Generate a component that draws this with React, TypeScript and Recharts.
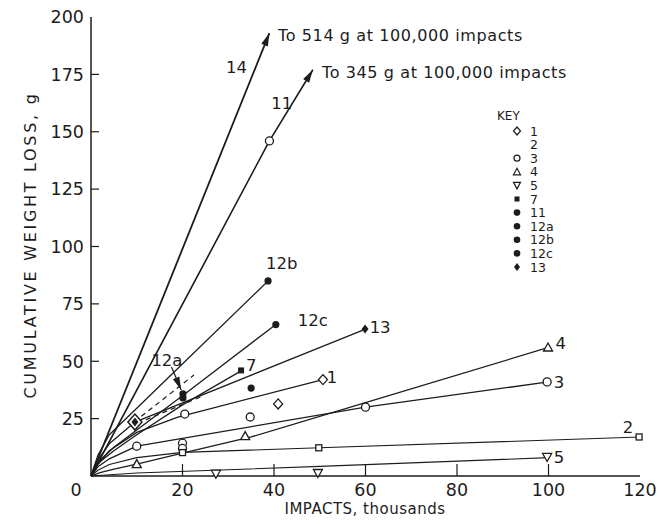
import { ComposedChart, Line, Scatter, XAxis, YAxis } from 'recharts'

// axis ticks
const xTicks = [0, 20, 40, 60, 80, 100, 120]
const yTicks = [0, 25, 50, 75, 100, 125, 150, 175, 200]

// curves (impacts in thousands, cumulative weight loss in g)
const line14 = [{ x: 0, y: 0 }, { x: 39, y: 193 }]
const line11 = [{ x: 0, y: 0 }, { x: 39, y: 146 }, { x: 48.5, y: 177 }]
const line12b = [{ x: 0, y: 0 }, { x: 1.5, y: 9 }, { x: 4, y: 18 }, { x: 10, y: 29.5 }, { x: 38.7, y: 85 }]
const line12c = [{ x: 0, y: 0 }, { x: 1.5, y: 6 }, { x: 5, y: 12.5 }, { x: 10, y: 20 }, { x: 20, y: 35 }, { x: 40.4, y: 66 }]
const line13 = [{ x: 0, y: 0 }, { x: 1.5, y: 7 }, { x: 4, y: 14 }, { x: 9.6, y: 23.5 }, { x: 60, y: 64 }]
const line7 = [{ x: 0, y: 0 }, { x: 1.5, y: 5.5 }, { x: 5, y: 11 }, { x: 10, y: 18 }, { x: 20, y: 31 }, { x: 33, y: 46 }]
const line1 = [{ x: 0, y: 0 }, { x: 1.5, y: 5 }, { x: 4, y: 11 }, { x: 10, y: 19 }, { x: 19, y: 25.7 }, { x: 50.7, y: 42 }]
const line3 = [{ x: 0, y: 0 }, { x: 1.5, y: 4 }, { x: 4, y: 7.5 }, { x: 10, y: 13 }, { x: 60, y: 30 }, { x: 100, y: 41 }]
const line4 = [{ x: 0, y: 0 }, { x: 2, y: 1.5 }, { x: 5, y: 3 }, { x: 10, y: 5.2 }, { x: 20, y: 10 }, { x: 35, y: 17 }, { x: 60, y: 32 }, { x: 100, y: 56 }]
const line2 = [{ x: 0, y: 0 }, { x: 1.5, y: 2.5 }, { x: 4, y: 5 }, { x: 10, y: 8 }, { x: 20, y: 10.3 }, { x: 50, y: 12.3 }, { x: 120, y: 17 }]
const line5 = [{ x: 0, y: 0 }, { x: 10, y: 1.3 }, { x: 50, y: 4.2 }, { x: 100, y: 8 }]
const dashA = [{ x: 11, y: 26 }, { x: 22.5, y: 44 }]
const dashB = [{ x: 12, y: 24.5 }, { x: 24, y: 34.5 }]
const pointer12a = [{ x: 17.6, y: 47.5 }, { x: 19.7, y: 37.5 }]

// data points by symbol
const openCircles = [{ x: 10, y: 13 }, { x: 20, y: 14.3 }, { x: 20, y: 12 }, { x: 20.5, y: 27 }, { x: 34.8, y: 25.7 }, { x: 60, y: 30 }, { x: 99.7, y: 41 }, { x: 39, y: 146 }]
const openSquares = [{ x: 20, y: 10.2 }, { x: 49.8, y: 12.3 }, { x: 119.8, y: 17 }]
const upTriangles = [{ x: 10, y: 5.2 }, { x: 33.7, y: 17.4 }, { x: 99.9, y: 56 }]
const downTriangles = [{ x: 27.3, y: 1 }, { x: 49.6, y: 1.3 }, { x: 99.7, y: 8.3 }]
const openDiamonds = [{ x: 40.9, y: 31.4 }, { x: 50.7, y: 42 }]
const bigDiamonds = [{ x: 9.6, y: 23.5 }]
const filledDiamonds = [{ x: 9.6, y: 23.5 }, { x: 59.9, y: 64 }]
const filledSquares = [{ x: 32.8, y: 46 }]
const filledCircles = [{ x: 20.1, y: 35.8 }, { x: 20.1, y: 34 }, { x: 35, y: 38.3 }, { x: 40.4, y: 66 }, { x: 38.7, y: 85 }]

// text on the plot
const curveLabels = [
  { x: 31.8, y: 178, text: '14' },
  { x: 41.7, y: 162.5, text: '11' },
  { x: 41.7, y: 93, text: '12b' },
  { x: 48.5, y: 68, text: '12c' },
  { x: 63.2, y: 65, text: '13' },
  { x: 35, y: 48.5, text: '7' },
  { x: 16.6, y: 50.5, text: '12a' },
  { x: 52.7, y: 43, text: '1' },
  { x: 102.7, y: 58, text: '4' },
  { x: 102.3, y: 41, text: '3' },
  { x: 117.4, y: 21.4, text: '2' },
  { x: 102.3, y: 8.3, text: '5' },
]
const notes = [
  { x: 40.9, y: 192.2, text: 'To 514 g at 100,000 impacts' },
  { x: 50.5, y: 176, text: 'To 345 g at 100,000 impacts' },
]
const keyNames = ['1', '2', '3', '4', '5', '7', '11', '12a', '12b', '12c', '13']
const keySymbols = ['diamond', 'none', 'circle', 'up', 'down', 'square', 'dot', 'dot', 'dot', 'dot', 'fdiamond']

const INK = '#1c1c1c'
const FONT = '"DejaVu Sans", sans-serif'
const KX = 549 / 120
const KY = 459 / 200

function BottomTick(props: any) {
  const { x, y, payload } = props
  const v = payload.value
  return (
    <g>
      {v > 0 && v < 120 && <line x1={x} x2={x} y1={y - 8} y2={y - 20} stroke={INK} strokeWidth={1.2} />}
      <text x={v === 0 ? x - 15 : x} y={y - 1} dy="0.75em" textAnchor="middle" fontSize={17.5} fill={INK} fontFamily={FONT}>{v}</text>
    </g>
  )
}

function LeftTick(props: any) {
  const { x, y, payload } = props
  const v = payload.value
  if (v === 0) return <g />
  return (
    <g>
      {v < 200 && <line x1={x + 7} x2={x + 15} y1={y} y2={y} stroke={INK} strokeWidth={1.2} />}
      <text x={x} y={y} dy="0.36em" textAnchor="end" fontSize={17.5} fill={INK} fontFamily={FONT}>{v}</text>
    </g>
  )
}

function TopTick(props: any) {
  const { x, y, payload } = props
  const v = payload.value
  if (v === 0 || v === 120) return <g />
  return <line x1={x} x2={x} y1={y} y2={y + 8} stroke={INK} strokeWidth={1.2} />
}

function RightTick(props: any) {
  const { x, y, payload } = props
  const v = payload.value
  if (v === 0 || v === 200) return <g />
  return <line x1={x - 8} x2={x} y1={y} y2={y} stroke={INK} strokeWidth={1.2} />
}

function makeArrow(data: { x: number; y: number }[]) {
  return (props: any) => {
    const { cx, cy, index } = props
    if (index !== data.length - 1) return <g key={index} />
    const a = data[data.length - 2]
    const b = data[data.length - 1]
    const ang = Math.atan2(-(b.y - a.y) * KY, (b.x - a.x) * KX)
    const L = 13
    const w = 3.5
    const bx = cx - L * Math.cos(ang)
    const by = cy - L * Math.sin(ang)
    const nx = -Math.sin(ang) * w
    const ny = Math.cos(ang) * w
    return (
      <polygon key={index} points={`${cx},${cy} ${bx + nx},${by + ny} ${bx - nx},${by - ny}`} fill={INK} />
    )
  }
}

const circleShape = (p: any) => <circle cx={p.cx} cy={p.cy} r={4} fill="#fff" stroke={INK} strokeWidth={1.3} />
const squareShape = (p: any) => <rect x={p.cx - 3} y={p.cy - 3} width={6} height={6} fill="#fff" stroke={INK} strokeWidth={1.3} />
const upShape = (p: any) => <polygon points={`${p.cx},${p.cy - 4.5} ${p.cx - 4.5},${p.cy + 3.5} ${p.cx + 4.5},${p.cy + 3.5}`} fill="#fff" stroke={INK} strokeWidth={1.3} />
const downShape = (p: any) => <polygon points={`${p.cx},${p.cy + 4.5} ${p.cx - 4.5},${p.cy - 3.5} ${p.cx + 4.5},${p.cy - 3.5}`} fill="#fff" stroke={INK} strokeWidth={1.3} />
const diamondShape = (p: any) => <polygon points={`${p.cx},${p.cy - 5} ${p.cx + 4.5},${p.cy} ${p.cx},${p.cy + 5} ${p.cx - 4.5},${p.cy}`} fill="#fff" stroke={INK} strokeWidth={1.3} />
const bigDiamondShape = (p: any) => <polygon points={`${p.cx},${p.cy - 8} ${p.cx + 7},${p.cy} ${p.cx},${p.cy + 8} ${p.cx - 7},${p.cy}`} fill="#fff" stroke={INK} strokeWidth={1.5} />
const fDiamondShape = (p: any) => <polygon points={`${p.cx},${p.cy - 4.5} ${p.cx + 3.5},${p.cy} ${p.cx},${p.cy + 4.5} ${p.cx - 3.5},${p.cy}`} fill={INK} />
const fSquareShape = (p: any) => <rect x={p.cx - 3} y={p.cy - 3} width={6} height={6} fill={INK} />
const dotShape = (p: any) => <circle cx={p.cx} cy={p.cy} r={3.6} fill={INK} />
const labelShape = (p: any) => (
  <text x={p.cx} y={p.cy} dy="0.36em" textAnchor="middle" fontSize={16.5} fill={INK} fontFamily={FONT}>{p.payload.text}</text>
)
const noteShape = (p: any) => (
  <text x={p.cx} y={p.cy} dy="0.36em" textAnchor="start" fontSize={16} letterSpacing={0.6} fill={INK} fontFamily={FONT}>{p.payload.text}</text>
)

function KeySymbol({ kind, x, y }: { kind: string; x: number; y: number }) {
  const s = { stroke: INK, strokeWidth: 1.2, fill: '#fff' }
  if (kind === 'diamond') return <polygon points={`${x},${y - 4} ${x + 3.5},${y} ${x},${y + 4} ${x - 3.5},${y}`} {...s} />
  if (kind === 'circle') return <circle cx={x} cy={y} r={3} {...s} />
  if (kind === 'up') return <polygon points={`${x},${y - 3.5} ${x - 3.5},${y + 3} ${x + 3.5},${y + 3}`} {...s} />
  if (kind === 'down') return <polygon points={`${x},${y + 3.5} ${x - 3.5},${y - 3} ${x + 3.5},${y - 3}`} {...s} />
  if (kind === 'square') return <rect x={x - 2.5} y={y - 2.5} width={5} height={5} fill={INK} />
  if (kind === 'dot') return <circle cx={x} cy={y} r={3.3} fill={INK} />
  if (kind === 'fdiamond') return <polygon points={`${x},${y - 4} ${x + 3},${y} ${x},${y + 4} ${x - 3},${y}`} fill={INK} />
  return null
}

const curve = (data: any[], key: string, width = 1.3, dash?: string) => (
  <Line
    key={key}
    data={data}
    dataKey="y"
    type="linear"
    stroke={INK}
    strokeWidth={width}
    strokeDasharray={dash}
    strokeLinejoin="round"
    dot={false}
    activeDot={false}
    isAnimationActive={false}
  />
)

export default function App() {
  return (
    <div style={{ position: 'absolute', left: 0, top: 0, width: 660, height: 524, background: '#fff' }}>
      <ComposedChart width={660} height={524} margin={{ top: 17, right: 20, bottom: 0, left: 0 }}>
        <XAxis dataKey="x" type="number" domain={[0, 120]} ticks={xTicks} height={48} tickSize={0} tickMargin={8}
          tickLine={false} axisLine={{ stroke: INK, strokeWidth: 1.5 }} tick={BottomTick} interval={0} />
        <XAxis xAxisId="top" orientation="top" dataKey="x" type="number" domain={[0, 120]} ticks={xTicks} height={0}
          tickSize={0} tickMargin={0} tickLine={false} axisLine={{ stroke: INK, strokeWidth: 1.5 }} tick={TopTick} interval={0} />
        <YAxis type="number" domain={[0, 200]} ticks={yTicks} width={91} tickSize={0} tickMargin={7}
          tickLine={false} axisLine={{ stroke: INK, strokeWidth: 1.5 }} tick={LeftTick} interval={0} />
        <YAxis yAxisId="right" orientation="right" type="number" domain={[0, 200]} ticks={yTicks} width={0}
          tickSize={0} tickMargin={0} tickLine={false} axisLine={{ stroke: INK, strokeWidth: 1.5 }} tick={RightTick} interval={0} />

        <Line data={line14} dataKey="y" type="linear" stroke={INK} strokeWidth={1.8} dot={makeArrow(line14)} activeDot={false} isAnimationActive={false} />
        <Line data={line11} dataKey="y" type="linear" stroke={INK} strokeWidth={1.6} strokeLinejoin="round" dot={makeArrow(line11)} activeDot={false} isAnimationActive={false} />
        <Line data={pointer12a} dataKey="y" type="linear" stroke={INK} strokeWidth={1.2} dot={makeArrow(pointer12a)} activeDot={false} isAnimationActive={false} />
        {curve(line12b, '12b')}
        {curve(line12c, '12c')}
        {curve(line13, '13')}
        {curve(line7, '7')}
        {curve(line1, '1')}
        {curve(line3, '3')}
        {curve(line4, '4')}
        {curve(line2, '2', 1.1)}
        {curve(line5, '5', 1.1)}
        {curve(dashA, 'dA', 1.2, '5 4')}
        {curve(dashB, 'dB', 1.2, '5 4')}

        <Scatter data={bigDiamonds} dataKey="y" shape={bigDiamondShape} isAnimationActive={false} />
        <Scatter data={openCircles} dataKey="y" shape={circleShape} isAnimationActive={false} />
        <Scatter data={openSquares} dataKey="y" shape={squareShape} isAnimationActive={false} />
        <Scatter data={upTriangles} dataKey="y" shape={upShape} isAnimationActive={false} />
        <Scatter data={downTriangles} dataKey="y" shape={downShape} isAnimationActive={false} />
        <Scatter data={openDiamonds} dataKey="y" shape={diamondShape} isAnimationActive={false} />
        <Scatter data={filledDiamonds} dataKey="y" shape={fDiamondShape} isAnimationActive={false} />
        <Scatter data={filledSquares} dataKey="y" shape={fSquareShape} isAnimationActive={false} />
        <Scatter data={filledCircles} dataKey="y" shape={dotShape} isAnimationActive={false} />
        <Scatter data={curveLabels} dataKey="y" shape={labelShape} isAnimationActive={false} />
        <Scatter data={notes} dataKey="y" shape={noteShape} isAnimationActive={false} />
      </ComposedChart>

      <svg width={660} height={524} style={{ position: 'absolute', left: 0, top: 0, pointerEvents: 'none' }}>
        <text x={30} y={245} transform="rotate(-90 30 245)" textAnchor="middle" dominantBaseline="central"
          fontSize={16} letterSpacing={2.7} fill={INK} fontFamily={FONT}>CUMULATIVE WEIGHT LOSS, g</text>
        <text x={365} y={509} textAnchor="middle" dominantBaseline="central" fontSize={15} letterSpacing={0.5}
          fill={INK} fontFamily={FONT}>IMPACTS, thousands</text>
        <text x={497} y={116} dominantBaseline="central" fontSize={12} fill={INK} fontFamily={FONT}>KEY</text>
        {keyNames.map((name, i) => {
          const y = 131 + i * 13.6
          return (
            <g key={name}>
              <KeySymbol kind={keySymbols[i]} x={517} y={y} />
              <text x={530} y={y} dominantBaseline="central" fontSize={12.5} fill={INK} fontFamily={FONT}>{name}</text>
            </g>
          )
        })}
      </svg>
    </div>
  )
}
